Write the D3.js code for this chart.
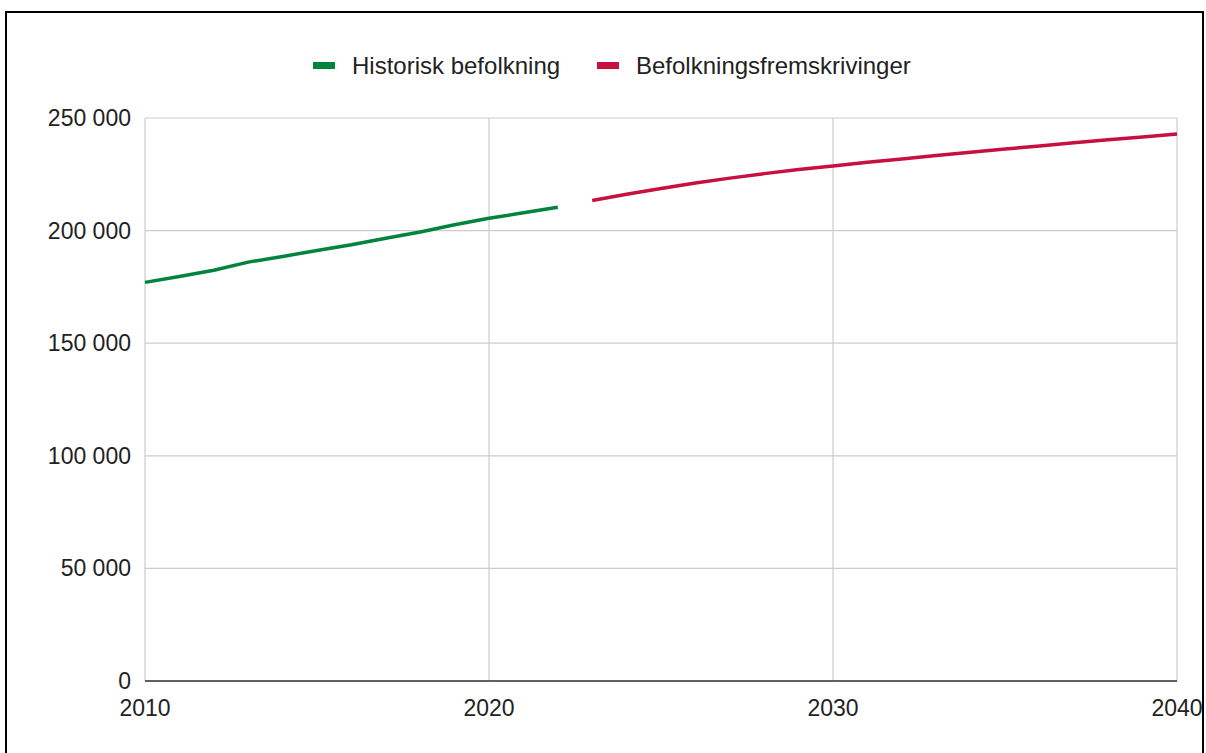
<!DOCTYPE html>
<html>
<head>
<meta charset="utf-8">
<script src="https://cdn.jsdelivr.net/npm/d3@7"></script>
<style>
  html, body { margin: 0; padding: 0; background: #fff; }
  svg { display: block; font-family: "Liberation Sans", Arial, sans-serif; }
</style>
</head>
<body>
<svg id="chart" width="1206" height="753"></svg>
<script>
// ---- data ----
const historicYears = [2010, 2011, 2012, 2013, 2014, 2015, 2016, 2017, 2018, 2019, 2020, 2021, 2022];
const historicValues = [177000, 179600, 182400, 186000, 188500, 191200, 193700, 196600, 199400, 202600, 205500, 207900, 210400];
const projectionYears = [2023, 2024, 2025, 2026, 2027, 2028, 2029, 2030, 2031, 2032, 2033, 2034, 2035, 2036, 2037, 2038, 2039, 2040];
const projectionValues = [213400, 216100, 218700, 221100, 223300, 225300, 227100, 228700, 230300, 231800, 233300, 234800, 236200, 237600, 239000, 240300, 241600, 242900];
const xTicks = [2010, 2020, 2030, 2040];
const yTicks = [0, 50000, 100000, 150000, 200000, 250000];
const seriesNames = ["Historisk befolkning", "Befolkningsfremskrivinger"];
const seriesColors = ["#00843D", "#C70F42"];

(function () {
const svg = d3.select("#chart");

// frame
svg.append("rect").attr("x", 6).attr("y", 12).attr("width", 1197).attr("height", 760)
  .attr("fill", "none").attr("stroke", "#000").attr("stroke-width", 2);

const mLeft = 145, mRight = 1177, mTop = 118, mBottom = 681;
const x = d3.scaleLinear().domain([2010, 2040]).range([mLeft, mRight]);
const y = d3.scaleLinear().domain([0, 250000]).range([mBottom, mTop]);

const fmt = v => d3.format(",")(v).replace(/,/g, " ");

// gridlines
svg.append("g").selectAll("line").data(yTicks).join("line")
  .attr("x1", mLeft).attr("x2", mRight)
  .attr("y1", d => y(d)).attr("y2", d => y(d))
  .attr("stroke", "#cccccc").attr("stroke-width", 1.2);
svg.append("g").selectAll("line").data(xTicks).join("line")
  .attr("y1", mTop).attr("y2", mBottom)
  .attr("x1", d => x(d)).attr("x2", d => x(d))
  .attr("stroke", "#cccccc").attr("stroke-width", 1.2);

// baseline
svg.append("line").attr("x1", mLeft).attr("x2", mRight).attr("y1", mBottom).attr("y2", mBottom)
  .attr("stroke", "#333").attr("stroke-width", 1.6);

// y labels
svg.append("g").selectAll("text").data(yTicks).join("text")
  .attr("x", 131).attr("y", d => y(d) + 8)
  .attr("text-anchor", "end").attr("font-size", 23).attr("fill", "#222")
  .text(d => fmt(d));

// x labels
svg.append("g").selectAll("text").data(xTicks).join("text")
  .attr("x", d => x(d)).attr("y", 716)
  .attr("text-anchor", "middle").attr("font-size", 23).attr("fill", "#222")
  .text(d => d);

// lines
const line = d3.line().x(d => x(d[0])).y(d => y(d[1]));
const hist = historicYears.map((yr, i) => [yr, historicValues[i]]);
const proj = projectionYears.map((yr, i) => [yr, projectionValues[i]]);
svg.append("path").datum(hist).attr("d", line).attr("fill", "none")
  .attr("stroke", seriesColors[0]).attr("stroke-width", 3.5).attr("stroke-linejoin", "round");
svg.append("path").datum(proj).attr("d", line).attr("fill", "none")
  .attr("stroke", seriesColors[1]).attr("stroke-width", 3.5).attr("stroke-linejoin", "round");

// legend
const legendX = [313, 597];
const lg = svg.append("g");
seriesNames.forEach((name, i) => {
  lg.append("rect").attr("x", legendX[i]).attr("y", 62).attr("width", 22).attr("height", 7)
    .attr("fill", seriesColors[i]);
  lg.append("text").attr("x", legendX[i] + 39).attr("y", 74)
    .attr("font-size", 24).attr("fill", "#222").text(name);
});
})();
</script>
</body>
</html>
